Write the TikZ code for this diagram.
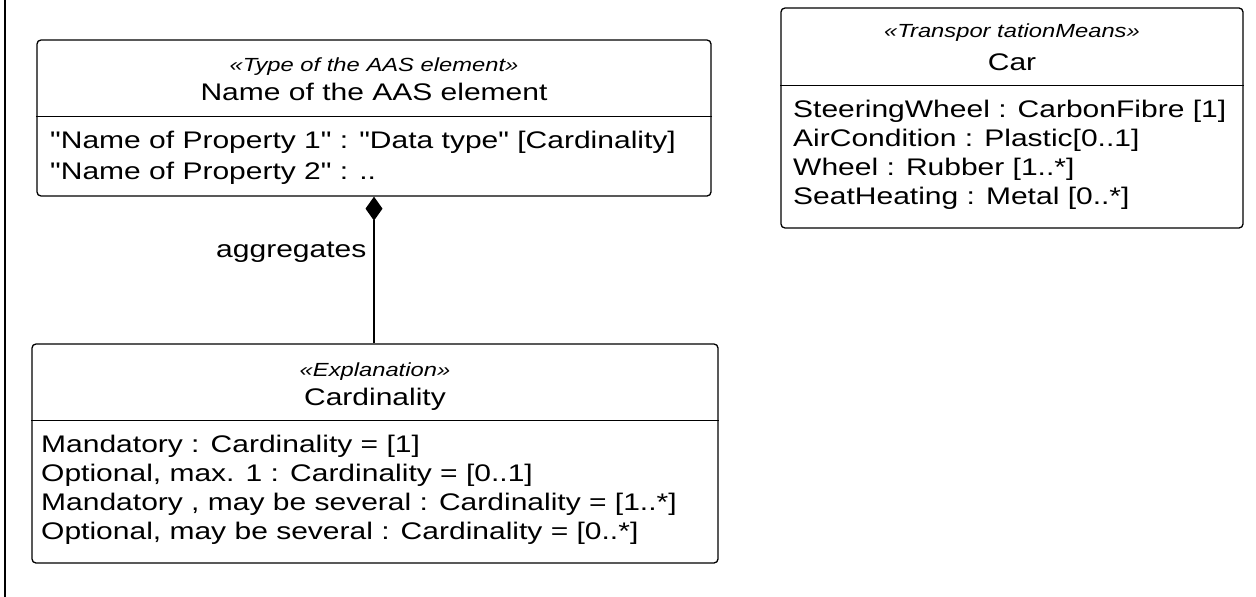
\documentclass[tikz,border=0pt]{standalone}
\usepackage{fontspec}
\setmainfont{Liberation Sans}[FakeStretch=1.25,Ligatures=TeXOff]
\usetikzlibrary{positioning,arrows.meta}

\tikzset{
  classbox/.style={draw, line width=1.3pt, rounded corners=4pt, inner sep=0pt},
  divline/.style={line width=1.3pt},
  stereotxt/.style={font=\fontsize{19}{22}\selectfont\itshape, inner sep=0pt, anchor=base},
  nametxt/.style={font=\fontsize{24}{28}\selectfont, inner sep=0pt, anchor=base},
  attrtxt/.style={font=\fontsize{24}{28}\selectfont, inner sep=0pt, anchor=base west},
}

\begin{document}
\begin{tikzpicture}[x=1pt,y=-1pt]
\useasboundingbox (0,0) rectangle (1256,597);
% frame edge
\draw[line width=1.5pt] (5,0) -- (5,597);

% AAS element
\node[classbox, minimum width=674pt, minimum height=156pt] (aas) at (374,118) {};
\draw[divline] ([yshift=-77pt]aas.north west) -- ([yshift=-77pt]aas.north east);
\node[stereotxt] (aasst) at (374,71) {«Type of the AAS element»};
\node[nametxt] (aasnm) at (374,100) {Name of the AAS element};
\node[attrtxt] (aasp1) at (50,148) {"Name of Property 1" : "Data type" [Cardinality]};
\node[attrtxt] (aasp2) at (50,179) {"Name of Property 2" : ..};

% Cardinality
\node[classbox, minimum width=686pt, minimum height=219pt] (card) at (375,453.5) {};
\draw[divline] ([yshift=-77pt]card.north west) -- ([yshift=-77pt]card.north east);
\node[stereotxt] (cardst) at (375,376) {«Explanation»};
\node[nametxt] (cardnm) at (375,405) {Cardinality};
\node[attrtxt] (carda1) at (41,452) {Mandatory : Cardinality = [1]};
\node[attrtxt] (carda2) at (41,481) {Optional, max. 1 : Cardinality = [0..1]};
\node[attrtxt] (carda3) at (41,510) {Mandatory , may be several : Cardinality = [1..*]};
\node[attrtxt] (carda4) at (41,539) {Optional, may be several : Cardinality = [0..*]};

% Car
\node[classbox, minimum width=462pt, minimum height=220pt] (car) at (1012,118) {};
\draw[divline] ([yshift=-78pt]car.north west) -- ([yshift=-78pt]car.north east);
\node[stereotxt] (carst) at (1012,37) {«Transpor tationMeans»};
\node[nametxt] (carnm) at (1012,70) {Car};
\node[attrtxt] (cara1) at (793,117) {SteeringWheel : CarbonFibre [1]};
\node[attrtxt] (cara2) at (793,146) {AirCondition : Plastic[0..1]};
\node[attrtxt] (cara3) at (793,175) {Wheel : Rubber [1..*]};
\node[attrtxt] (cara4) at (793,204) {SeatHeating : Metal [0..*]};

% aggregation
\draw[line width=1.3pt, {Diamond[length=24pt,width=17pt]}-] (aas.south) -- (aas.south |- card.north)
  node[pos=0.38, left=7pt, font=\fontsize{24}{28}\selectfont, inner sep=0pt] (aggr) {aggregates};
\end{tikzpicture}
\end{document}
